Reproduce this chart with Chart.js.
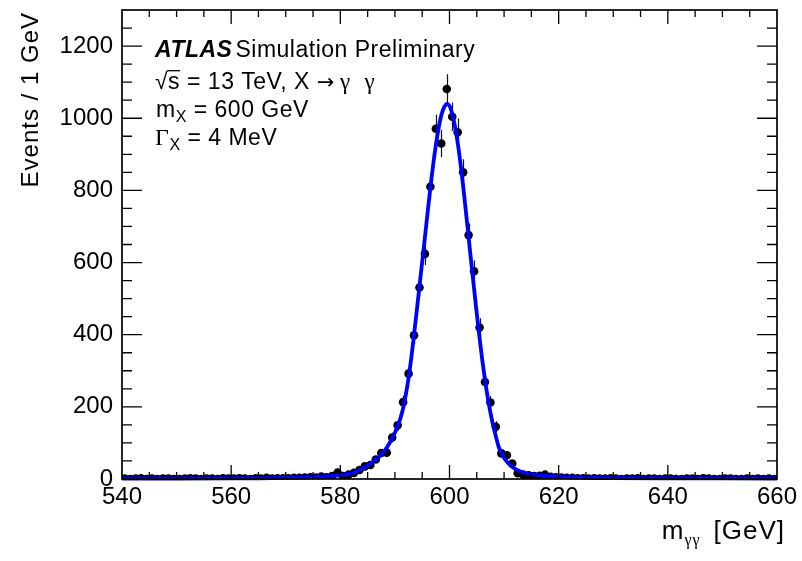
<!DOCTYPE html>
<html>
<head>
<meta charset="utf-8">
<script src="https://cdn.jsdelivr.net/npm/chart.js@4.4.1/dist/chart.umd.min.js"></script>
<style>
  html, body { margin: 0; padding: 0; background: #fff; }
  canvas { display: block; }
</style>
</head>
<body>
<canvas id="c" width="802" height="561"></canvas>
<script>
// Diphoton invariant mass, 1 GeV bins from 540 to 660 GeV
const massLow = 540;
const binWidth = 1;

// Simulated events per bin
const events = [
  1, 0, 1, 2, 0, 1, 0, 1, 1, 0,
  0, 1, 2, 1, 0, 1, 1, 0, 2, 1,
  1, 2, 1, 0, 2, 1, 3, 1, 2, 2,
  2, 3, 3, 4, 5, 4, 7, 5, 8, 18,
  8, 12, 17, 25, 35, 39, 54, 72, 73, 115,
  149, 213, 292, 398, 531, 624, 810, 971, 930, 1081,
  1004, 961, 850, 676, 576, 420, 269, 212, 145, 71,
  66, 43, 16, 12, 10, 8, 9, 12, 6, 5,
  4, 3, 3, 2, 2, 1, 2, 1, 1, 2,
  1, 0, 1, 1, 2, 0, 1, 1, 0, 1,
  1, 0, 0, 1, 1, 0, 2, 1, 0, 0,
  1, 1, 0, 0, 1, 0, 1, 0, 1, 0
];

// Statistical uncertainty per bin
const eventErrors = [
  1.3, 0, 1.3, 1.8, 0, 1.3, 0, 1.3, 1.3, 0,
  0, 1.3, 1.8, 1.3, 0, 1.3, 1.3, 0, 1.8, 1.3,
  1.3, 1.8, 1.3, 0, 1.8, 1.3, 2.2, 1.3, 1.8, 1.8,
  1.8, 2.2, 2.2, 2.5, 2.8, 2.5, 3.3, 2.8, 3.5, 5.3,
  3.5, 4.3, 5.2, 6.3, 7.4, 7.8, 9.2, 10.6, 10.7, 13.4,
  15.3, 18.2, 21.4, 24.9, 28.8, 31.2, 35.6, 39.0, 38.1, 41.1,
  39.6, 38.8, 36.4, 32.5, 30.0, 25.6, 20.5, 18.2, 15.1, 10.5,
  10.2, 8.2, 5.0, 4.3, 4.0, 3.5, 3.8, 4.3, 3.1, 2.8,
  2.5, 2.2, 2.2, 1.8, 1.8, 1.3, 1.8, 1.3, 1.3, 1.8,
  1.3, 0, 1.3, 1.3, 1.8, 0, 1.3, 1.3, 0, 1.3,
  1.3, 0, 0, 1.3, 1.3, 0, 1.8, 1.3, 0, 0,
  1.3, 1.3, 0, 0, 1.3, 0, 1.3, 0, 1.3, 0
];

// Signal fit curve sampled along the mass axis
const fitMass = [
  540, 550, 560, 565, 570, 573, 575, 577, 579, 580,
  581, 582, 583, 584, 585, 586, 587, 588, 589, 590,
  591, 591.5, 592, 592.5, 593, 593.5, 594, 594.5, 595, 595.5,
  596, 596.5, 597, 597.5, 598, 598.5, 599, 599.5, 600, 600.5,
  601, 601.5, 602, 602.5, 603, 603.5, 604, 604.5, 605, 605.5,
  606, 606.5, 607, 607.5, 608, 608.5, 609, 609.5, 610, 611,
  612, 613, 614, 615, 617, 620, 625, 630, 640, 650, 660
];
const fitEvents = [
  1.2, 1.3, 1.6, 2, 3, 4, 5, 6.5, 8.5, 10,
  12, 15, 20, 28, 37, 48, 60, 76, 99, 128,
  168, 196, 234, 280, 336, 400, 466, 534, 602, 670,
  740, 808, 870, 925, 972, 1008, 1030, 1040, 1034, 1012,
  978, 932, 876, 812, 742, 670, 598, 528, 458, 392,
  330, 275, 226, 184, 148, 118, 90, 73, 58, 40,
  28, 21, 16, 12.5, 9, 6, 3.5, 2.5, 1.8, 1.5, 1.2
];

// Axis ranges and labelled ticks
const xRange = [540, 660];
const yRange = [0, 1300];
const xTickLabels = [540, 560, 580, 600, 620, 640, 660];
const yTickLabels = [0, 200, 400, 600, 800, 1000, 1200];
const xMinorStep = 5;
const yMinorStep = 50;

const SANS = '"Liberation Sans", Arial, Helvetica, sans-serif';
const SERIF = '"Liberation Serif", "Times New Roman", serif';
const SYMB = '"DejaVu Sans", sans-serif';

// Draws a sequence of text runs (font, vertical shift) from a start position
function drawRuns(ctx, runs, x, y) {
  let cx = x;
  const pos = [];
  for (const r of runs) {
    ctx.font = r.font;
    const w = ctx.measureText(r.text).width;
    ctx.fillText(r.text, cx, y + (r.dy || 0));
    pos.push({ x: cx, w: w });
    cx += w + (r.gap || 0);
  }
  return pos;
}

function runsWidth(ctx, runs) {
  let w = 0;
  for (const r of runs) { ctx.font = r.font; w += ctx.measureText(r.text).width + (r.gap || 0); }
  return w;
}

// ROOT style frame: closed box, inward ticks on all four sides, error bars, annotations
const rootFrame = {
  id: 'rootFrame',
  beforeDatasetsDraw(chart) {
    const { ctx, chartArea: ca } = chart;
    const xs = chart.scales.x, ys = chart.scales.y;
    ctx.save();
    ctx.beginPath();
    ctx.rect(ca.left, ca.top, ca.right - ca.left, ca.bottom - ca.top);
    ctx.clip();
    ctx.strokeStyle = '#111';
    ctx.lineWidth = 1.2;
    events.forEach((n, i) => {
      const e = eventErrors[i];
      if (!e) return;
      const px = Math.round(xs.getPixelForValue(massLow + binWidth * (i + 0.5))) + 0.5;
      ctx.beginPath();
      ctx.moveTo(px, ys.getPixelForValue(n - e));
      ctx.lineTo(px, ys.getPixelForValue(n + e));
      ctx.stroke();
    });
    ctx.restore();
  },
  afterDatasetsDraw(chart) {
    const { ctx, chartArea: ca } = chart;
    const xs = chart.scales.x, ys = chart.scales.y;
    ctx.save();
    ctx.strokeStyle = '#000';
    ctx.lineWidth = 1.3;
    ctx.beginPath();
    for (let v = xRange[0] + xMinorStep; v < xRange[1]; v += xMinorStep) {
      const major = xTickLabels.includes(v);
      const len = major ? 14 : 7;
      const px = xs.getPixelForValue(v);
      ctx.moveTo(px, ca.bottom); ctx.lineTo(px, ca.bottom - len);
      ctx.moveTo(px, ca.top); ctx.lineTo(px, ca.top + len);
    }
    for (let v = yRange[0] + yMinorStep; v < yRange[1]; v += yMinorStep) {
      const major = yTickLabels.includes(v);
      const len = major ? 20 : 10;
      const py = ys.getPixelForValue(v);
      ctx.moveTo(ca.left, py); ctx.lineTo(ca.left + len, py);
      ctx.moveTo(ca.right, py); ctx.lineTo(ca.right - len, py);
    }
    ctx.stroke();
    ctx.lineWidth = 1.7;
    ctx.strokeRect(ca.left, ca.top, ca.right - ca.left, ca.bottom - ca.top);
    ctx.restore();
  },
  afterDraw(chart) {
    const { ctx, chartArea: ca } = chart;
    ctx.save();
    ctx.fillStyle = '#000';
    ctx.textAlign = 'left';
    ctx.textBaseline = 'alphabetic';
    ctx.letterSpacing = '1px';

    // y axis title
    ctx.save();
    ctx.translate(38, 12);
    ctx.rotate(-Math.PI / 2);
    ctx.textAlign = 'right';
    ctx.font = '24px ' + SANS;
    ctx.fillText('Events / 1 GeV', 0, 0);
    ctx.restore();

    // x axis title, right aligned
    const xTitle = [
      { text: 'm', font: '26px ' + SANS },
      { text: 'γγ', font: '16px ' + SERIF, dy: 6, gap: 13 },
      { text: '[GeV]', font: '26px ' + SANS }
    ];
    drawRuns(ctx, xTitle, 785 - runsWidth(ctx, xTitle), 539);

    // Annotation block
    ctx.letterSpacing = '0.5px';
    const x0 = ca.left + 33;
    drawRuns(ctx, [
      { text: 'ATLAS', font: 'italic bold 23px ' + SANS, gap: 3 },
      { text: 'Simulation Preliminary', font: '23px ' + SANS }
    ], x0, 57);

    const l2 = drawRuns(ctx, [
      { text: '√', font: '23px ' + SANS },
      { text: 's', font: '23px ' + SANS },
      { text: ' = 13 TeV, X ', font: '23px ' + SANS },
      { text: '→', font: '21px ' + SYMB, gap: 5 },
      { text: 'γ', font: '23px ' + SERIF },
      { text: '  ', font: '23px ' + SANS },
      { text: 'γ', font: '23px ' + SERIF }
    ], x0, 89);
    ctx.font = '23px ' + SANS;
    const rootTop = 89 - ctx.measureText('√').actualBoundingBoxAscent;
    ctx.lineWidth = 1.3;
    ctx.strokeStyle = '#000';
    ctx.beginPath();
    ctx.moveTo(l2[1].x - 1, rootTop + 0.7);
    ctx.lineTo(l2[1].x + l2[1].w, rootTop + 0.7);
    ctx.stroke();

    drawRuns(ctx, [
      { text: 'm', font: '23px ' + SANS },
      { text: 'X', font: '16px ' + SANS, dy: 5 },
      { text: ' = 600 GeV', font: '23px ' + SANS }
    ], x0 + 1, 117);

    drawRuns(ctx, [
      { text: 'Γ', font: '24px ' + SERIF },
      { text: 'X', font: '16px ' + SANS, dy: 5 },
      { text: ' = 4 MeV', font: '23px ' + SANS }
    ], x0, 145);

    ctx.restore();
  }
};

const binCentres = events.map((_, i) => massLow + binWidth * (i + 0.5));

new Chart(document.getElementById('c'), {
  type: 'scatter',
  data: {
    datasets: [
      {
        type: 'line',
        label: 'Fit',
        data: fitMass.map((m, i) => ({ x: m, y: fitEvents[i] })),
        borderColor: '#0000ff',
        borderWidth: 3.8,
        pointRadius: 0,
        cubicInterpolationMode: 'monotone',
        fill: false,
        clip: 2,
        order: 0
      },
      {
        type: 'scatter',
        label: 'Simulation',
        data: binCentres.map((m, i) => ({ x: m, y: events[i] })),
        pointRadius: 4.3,
        pointBackgroundColor: '#000',
        pointBorderColor: '#000',
        pointBorderWidth: 0,
        clip: 0,
        order: 1
      }
    ]
  },
  options: {
    responsive: false,
    animation: false,
    devicePixelRatio: 1,
    layout: { padding: { left: 0, right: 25, top: 10, bottom: 0 } },
    plugins: { legend: { display: false }, tooltip: { enabled: false } },
    scales: {
      x: {
        type: 'linear',
        min: xRange[0], max: xRange[1],
        grid: { display: false, drawTicks: false },
        border: { display: false },
        ticks: {
          color: '#000', font: { family: SANS, size: 24 },
          padding: 4, maxRotation: 0, autoSkip: false,
          callback: v => String(v)
        },
        afterBuildTicks(s) { s.ticks = xTickLabels.map(v => ({ value: v })); },
        afterFit(s) { s.height = 82; s.paddingLeft = 0; s.paddingRight = 0; }
      },
      y: {
        type: 'linear',
        min: yRange[0], max: yRange[1],
        grid: { display: false, drawTicks: false },
        border: { display: false },
        ticks: {
          color: '#000', font: { family: SANS, size: 24 },
          padding: 9, autoSkip: false,
          callback: v => String(v)
        },
        afterBuildTicks(s) { s.ticks = yTickLabels.map(v => ({ value: v })); },
        afterFit(s) { s.width = 122; s.paddingTop = 0; s.paddingBottom = 0; }
      }
    }
  },
  plugins: [rootFrame]
});
</script>
</body>
</html>
